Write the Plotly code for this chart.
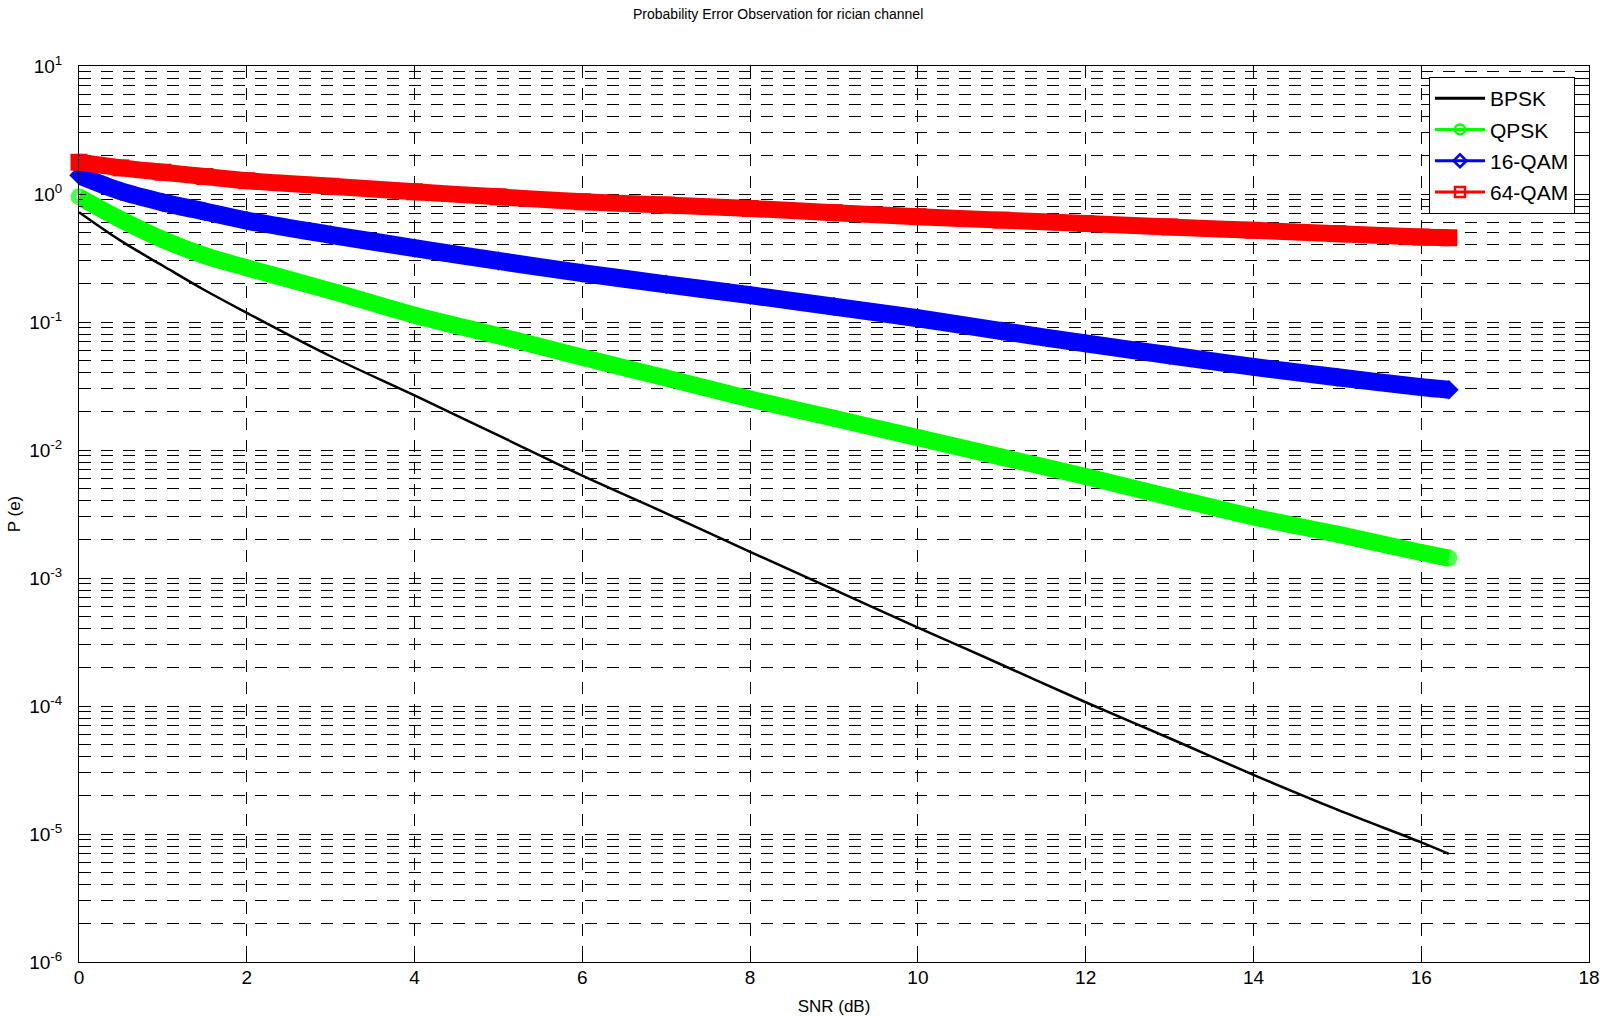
import plotly.graph_objects as go

# ---- data ----
snr_db = [0, 0.5, 1, 1.5, 2, 3, 4, 5, 6, 7, 8, 9, 10, 11, 12, 13, 14, 15, 16, 16.33]

pe_bpsk = [0.72, 0.43, 0.275, 0.177, 0.118, 0.054, 0.0267, 0.013, 0.0063, 0.0032,
           0.0016, 8.1e-4, 4.1e-4, 2.1e-4, 1.07e-4, 5.6e-5, 2.9e-5, 1.55e-5, 8.6e-6, 7.0e-6]
pe_qpsk = [0.95, 0.63, 0.44, 0.33, 0.265, 0.175, 0.113, 0.078, 0.053, 0.0365,
           0.025, 0.0177, 0.0125, 0.0088, 0.0062, 0.0043, 0.003, 0.0022, 0.00158, 0.00143]
pe_16qam = [1.40, 1.05, 0.86, 0.73, 0.62, 0.48, 0.378, 0.30, 0.241, 0.197,
            0.162, 0.132, 0.107, 0.085, 0.068, 0.055, 0.0446, 0.037, 0.031, 0.0296]
pe_64qam = [1.77, 1.60, 1.48, 1.37, 1.27, 1.15, 1.04, 0.95, 0.87, 0.82,
            0.77, 0.715, 0.665, 0.625, 0.588, 0.553, 0.52, 0.49, 0.461, 0.455]

series_names = ["BPSK", "QPSK", "16-QAM", "64-QAM"]

x_tick_vals = [0, 2, 4, 6, 8, 10, 12, 14, 16, 18]
y_tick_vals = [1e-6, 1e-5, 1e-4, 1e-3, 1e-2, 1e-1, 1e0, 1e1]
y_tick_text = ["10<sup>-6</sup>", "10<sup>-5</sup>", "10<sup>-4</sup>", "10<sup>-3</sup>",
               "10<sup>-2</sup>", "10<sup>-1</sup>", "10<sup>0</sup>", "10<sup>1</sup>"]

title_text = "Probability Error Observation for rician channel"
x_title = "SNR (dB)"
y_title = "P (e)"

FONT = "Liberation Sans Narrow, Arial Narrow, Liberation Sans, Arial, sans-serif"

n_pts = len(snr_db)
# first QPSK marker drawn as a ring (as in the reference), the rest solid
qpsk_symbols = ["circle-open"] + ["circle"] * (n_pts - 1)
qpsk_sizes = [11] + [17] * (n_pts - 1)
qpsk_lw = [6] + [0] * (n_pts - 1)

fig = go.Figure()

# main curves (drawn through plotly's own axes)
fig.add_trace(go.Scatter(x=snr_db, y=pe_bpsk, mode="lines", name=series_names[0],
                         line=dict(color="#000000", width=2.5, shape="spline", smoothing=1.0),
                         showlegend=False, cliponaxis=False))
fig.add_trace(go.Scatter(x=snr_db, y=pe_qpsk, mode="lines+markers", name=series_names[1],
                         line=dict(color="#00FF00", width=17, shape="spline", smoothing=0.8),
                         marker=dict(symbol=qpsk_symbols, size=qpsk_sizes, color="#00FF00",
                                     line=dict(width=qpsk_lw, color="#00FF00")),
                         showlegend=False, cliponaxis=False))
fig.add_trace(go.Scatter(x=snr_db, y=pe_16qam, mode="lines+markers", name=series_names[2],
                         line=dict(color="#0000FF", width=18, shape="spline", smoothing=0.8),
                         marker=dict(symbol="diamond", size=15, color="#0000FF"),
                         showlegend=False, cliponaxis=False))
fig.add_trace(go.Scatter(x=snr_db, y=pe_64qam, mode="lines+markers", name=series_names[3],
                         line=dict(color="#FF0000", width=17, shape="spline", smoothing=0.8),
                         marker=dict(symbol="square", size=17, color="#FF0000"),
                         showlegend=False, cliponaxis=False))

# legend entries
legend_styles = [
    dict(color="#000000", symbol=None),
    dict(color="#00FF00", symbol="circle-open"),
    dict(color="#0000FF", symbol="diamond-open"),
    dict(color="#FF0000", symbol="square-open"),
]
for nm, st in zip(series_names, legend_styles):
    if st["symbol"] is None:
        fig.add_trace(go.Scatter(x=[None], y=[None], mode="lines", name=nm,
                                 line=dict(color=st["color"], width=3),
                                 legendgroup=nm))
    else:
        fig.add_trace(go.Scatter(x=[None], y=[None], mode="lines+markers", name=nm,
                                 line=dict(color=st["color"], width=3),
                                 marker=dict(symbol=st["symbol"], size=10, color=st["color"],
                                             line=dict(width=2.5, color=st["color"])),
                                 legendgroup=nm))

DASH = "12px,10px"
minor_vals = [m * 10.0 ** e for e in range(-6, 1) for m in range(2, 10)]

fig.update_layout(
    template="none",
    width=1600, height=1016,
    margin=dict(l=79, r=11, t=66, b=54, autoexpand=False),
    paper_bgcolor="white", plot_bgcolor="white",
    font=dict(family=FONT, color="black", size=19),
    title=dict(text=title_text, x=0.463, xref="paper", xanchor="center",
               y=1 - 14 / 1016, yref="container", yanchor="middle",
               font=dict(family=FONT, size=14, color="black")),
    showlegend=True,
    legend=dict(x=(1429 - 79) / 1510, y=(962 - 77) / 896, xanchor="left", yanchor="top",
                bgcolor="white", bordercolor="black", borderwidth=1,
                font=dict(family=FONT, size=21, color="black"),
                traceorder="grouped", tracegroupgap=1, itemwidth=50),
    xaxis=dict(
        range=[0, 18], tickmode="array", tickvals=x_tick_vals,
        showline=True, linecolor="black", linewidth=1, mirror="ticks",
        ticks="inside", ticklen=7, tickcolor="black", tickwidth=1,
        showgrid=True, gridcolor="black", gridwidth=1, griddash=DASH,
        zeroline=False, tickfont=dict(family=FONT, size=19, color="black"),
        ticklabelstandoff=-2,
        title=dict(text=x_title, font=dict(family=FONT, size=17, color="black"), standoff=31),
    ),
    yaxis=dict(
        type="log", range=[-6, 1], tickmode="array", tickvals=y_tick_vals, ticktext=y_tick_text,
        showline=True, linecolor="black", linewidth=1, mirror="ticks",
        ticks="inside", ticklen=7, tickcolor="black", tickwidth=1,
        showgrid=True, gridcolor="black", gridwidth=1, griddash=DASH,
        zeroline=False, tickfont=dict(family=FONT, size=19, color="black"),
        ticklabelstandoff=12,
        minor=dict(tickmode="array", tickvals=minor_vals, ticks="inside", ticklen=4,
                   tickcolor="black", showgrid=True, gridcolor="black", gridwidth=1,
                   griddash=DASH),
        title=dict(text=y_title, font=dict(family=FONT, size=17, color="black"), standoff=4),
    ),
)

fig.write_html("out.html")
